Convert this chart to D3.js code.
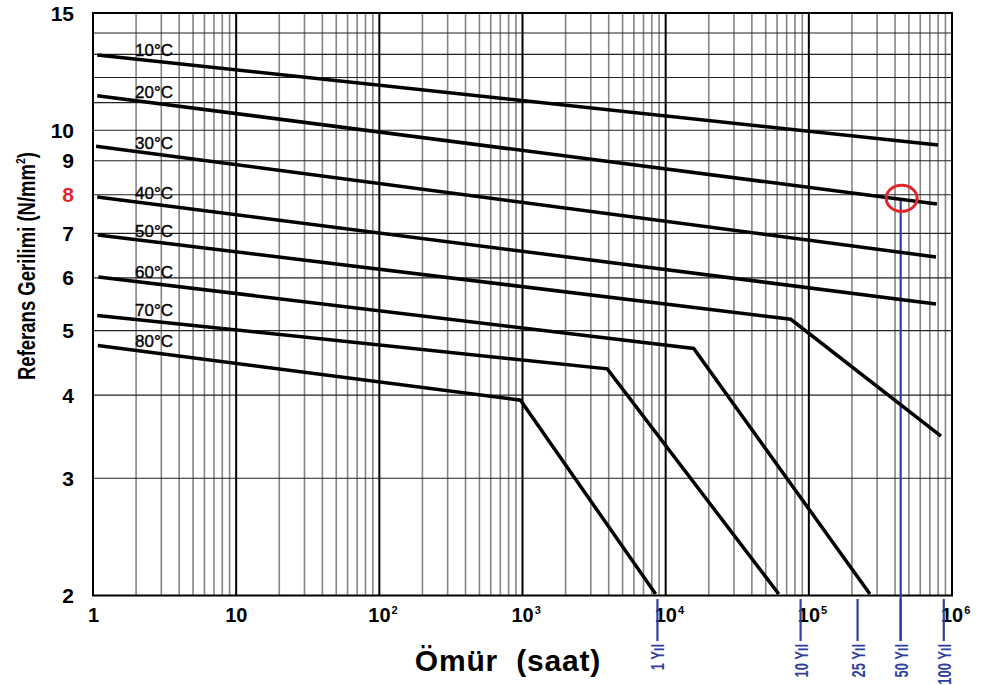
<!DOCTYPE html>
<html lang="tr">
<head>
<meta charset="utf-8">
<title>Referans Gerilimi - Ömür</title>
<script src="https://cdn.jsdelivr.net/npm/d3@7"></script>
<style>
    body { margin: 0; background: #fff; }
    text { font-family: "Liberation Sans", Arial, sans-serif; }
</style>
</head>
<body>
<script>
// curves: hours and stress (N/mm2) per temperature
var seriesNames = ["10°C", "20°C", "30°C", "40°C", "50°C", "60°C", "70°C", "80°C"];
var seriesHours = [
    [1.07, 798000],
    [1.07, 785000],
    [1.05, 773000],
    [1.07, 773000],
    [1.08, 74800, 838000],
    [1.09, 15700, 267000],
    [1.07, 3910, 61700],
    [1.08, 968, 8510]
];
var seriesStress = [
    [12.97, 9.50],
    [11.27, 7.75],
    [9.46, 6.45],
    [7.94, 5.48],
    [6.96, 5.20, 3.47],
    [6.02, 4.70, 2.01],
    [5.27, 4.38, 2.01],
    [4.75, 3.93, 2.01]
];

var yTicks = [15, 10, 9, 8, 7, 6, 5, 4, 3, 2];
var yGrid = d3.range(2, 16);
var xTickHours = [1, 10, 100, 1e3, 1e4, 1e5, 1e6];
var xTickBase = ["1", "10", "10", "10", "10", "10", "10"];
var xTickExp = ["", "", "2", "3", "4", "5", "6"];
var years = [1, 10, 25, 50, 100];
var yearLabels = ["1 Yıl", "10 Yıl", "25 Yıl", "50 Yıl", "100 Yıl"];
var hoursPerYear = 8760;
var markYear = 50, markStress = 7.9, redTick = 8;

var width = 981, height = 685;
var blue = "#2f3fa0", red = "#e0262a";

var svg = d3.select("body").append("svg")
    .attr("width", width)
    .attr("height", height);

var x = d3.scaleLog().domain([1, 1e6]).range([93, 952]);
var y = d3.scaleLog().domain([2, 15]).range([595.5, 13]);

var x0 = x.range()[0], x1 = x.range()[1];
var yTop = y.range()[1], yBot = y.range()[0];

// minor vertical grid
var minor = [];
for (var d = 0; d < 6; d++) {
    for (var k = 2; k <= 9; k++) minor.push(k * Math.pow(10, d));
}
svg.append("g").selectAll("line")
    .data(minor)
    .enter().append("line")
    .attr("x1", h => x(h)).attr("x2", h => x(h))
    .attr("y1", yTop).attr("y2", yBot)
    .attr("stroke", "#858585")
    .attr("stroke-width", 1.6);

// horizontal grid
svg.append("g").selectAll("line")
    .data(yGrid)
    .enter().append("line")
    .attr("x1", x0).attr("x2", x1)
    .attr("y1", v => y(v)).attr("y2", v => y(v))
    .attr("stroke", "#222")
    .attr("stroke-width", 1.1);

// decade lines
svg.append("g").selectAll("line")
    .data(xTickHours)
    .enter().append("line")
    .attr("x1", h => x(h)).attr("x2", h => x(h))
    .attr("y1", yTop).attr("y2", yBot)
    .attr("stroke", "#000")
    .attr("stroke-width", 2);

// frame
svg.append("rect")
    .attr("x", x0).attr("y", yTop)
    .attr("width", x1 - x0).attr("height", yBot - yTop)
    .attr("fill", "none")
    .attr("stroke", "#000")
    .attr("stroke-width", 2);

// 50 year guide line (behind curves)
svg.append("line")
    .attr("x1", x(markYear * hoursPerYear)).attr("x2", x(markYear * hoursPerYear))
    .attr("y1", y(markStress)).attr("y2", 641)
    .attr("stroke", blue)
    .attr("stroke-width", 2.2);

// curves
var line = d3.line()
    .x(p => x(p[0]))
    .y(p => y(p[1]));

var curves = seriesNames.map(function(name, i) {
    return { name: name, pts: seriesHours[i].map((h, j) => [h, seriesStress[i][j]]) };
});

svg.append("g").selectAll("path")
    .data(curves)
    .enter().append("path")
    .attr("d", c => line(c.pts))
    .attr("fill", "none")
    .attr("stroke", "#000")
    .attr("stroke-width", 3.5)
    .attr("stroke-linejoin", "miter");

// temperature labels sitting on the curves at 2 h
function stressAt(pts, h) {
    var a = pts[0], b = pts[1];
    var t = Math.log(h / a[0]) / Math.log(b[0] / a[0]);
    return Math.exp(Math.log(a[1]) + t * (Math.log(b[1]) - Math.log(a[1])));
}
svg.append("g").selectAll("text")
    .data(curves)
    .enter().append("text")
    .attr("x", x(2) - 1)
    .attr("y", c => y(stressAt(c.pts, 2)) - 3)
    .attr("font-size", 17)
    .attr("fill", "#000")
    .attr("stroke", "#000")
    .attr("stroke-width", 0.35)
    .text(c => c.name);

// y tick labels
svg.append("g").selectAll("text")
    .data(yTicks)
    .enter().append("text")
    .attr("x", 74)
    .attr("y", v => y(v))
    .attr("dy", "0.36em")
    .attr("text-anchor", "end")
    .attr("font-size", 21)
    .attr("font-weight", "bold")
    .attr("fill", v => v === redTick ? red : "#000")
    .text(v => v);

// x tick labels
var xl = svg.append("g").selectAll("text")
    .data(xTickHours)
    .enter().append("text")
    .attr("x", (h, i) => x(h) - (xTickBase[i].length === 2 ? 11 : 5))
    .attr("y", 622)
    .attr("font-size", 20)
    .attr("font-weight", "bold")
    .attr("fill", "#000");
xl.append("tspan").text((h, i) => xTickBase[i]);
xl.append("tspan")
    .attr("font-size", 11)
    .attr("dy", -8)
    .attr("dx", 1)
    .text((h, i) => xTickExp[i]);

// year ticks and labels
svg.append("g").selectAll("line")
    .data(years)
    .enter().append("line")
    .attr("x1", yr => x(yr * hoursPerYear)).attr("x2", yr => x(yr * hoursPerYear))
    .attr("y1", 599).attr("y2", 641)
    .attr("stroke", blue)
    .attr("stroke-width", 2.2);

svg.append("g").selectAll("text")
    .data(years)
    .enter().append("text")
    .attr("transform", yr => "translate(" + (x(yr * hoursPerYear) + 7) + ",644) rotate(-90)")
    .attr("text-anchor", "end")
    .attr("font-size", 19)
    .attr("font-weight", "bold")
    .attr("fill", blue)
    .text((yr, i) => yearLabels[i])
    .each(function() {
        var len = this.getComputedTextLength();
        d3.select(this).attr("textLength", len * 0.68).attr("lengthAdjust", "spacingAndGlyphs");
    });

// red marker
svg.append("ellipse")
    .attr("cx", x(markYear * hoursPerYear) + 1)
    .attr("cy", y(markStress))
    .attr("rx", 15.5).attr("ry", 13)
    .attr("fill", "none")
    .attr("stroke", red)
    .attr("stroke-width", 3);

// axis titles
svg.append("text")
    .attr("x", 508)
    .attr("y", 671)
    .attr("text-anchor", "middle")
    .attr("font-size", 30)
    .attr("font-weight", "bold")
    .attr("letter-spacing", 0.8)
    .attr("fill", "#000")
    .text("Ömür\u00a0\u00a0(saat)");

var yt = svg.append("text")
    .attr("transform", "translate(35,266) rotate(-90)")
    .attr("text-anchor", "middle")
    .attr("font-size", 23)
    .attr("font-weight", "bold")
    .attr("fill", "#000")
    .attr("textLength", 228)
    .attr("lengthAdjust", "spacingAndGlyphs");
yt.append("tspan").text("Referans Gerilimi (N/mm");
yt.append("tspan").attr("font-size", 13).attr("dy", -10).text("2");
yt.append("tspan").attr("dy", 10).text(")");
</script>
</body>
</html>
